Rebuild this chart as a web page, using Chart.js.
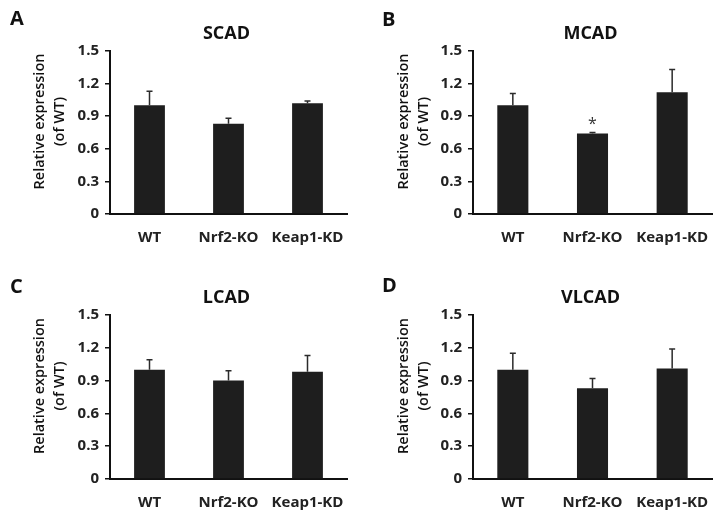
<!DOCTYPE html>
<html>
<head>
<meta charset="utf-8">
<script src="https://cdn.jsdelivr.net/npm/chart.js@4.4.1/dist/chart.umd.min.js"></script>
<style>
  html, body { margin: 0; padding: 0; background: #fff; }
  #wrap { position: relative; width: 728px; height: 524px; }
  .panel { position: absolute; width: 364px; height: 262px; }
</style>
</head>
<body>
<div id="wrap">
  <div class="panel" style="left:0;top:0"><canvas id="cA" width="364" height="262"></canvas></div>
  <div class="panel" style="left:364px;top:0"><canvas id="cB" width="364" height="262"></canvas></div>
  <div class="panel" style="left:0;top:262px"><canvas id="cC" width="364" height="262"></canvas></div>
  <div class="panel" style="left:364px;top:262px"><canvas id="cD" width="364" height="262"></canvas></div>
</div>
<script>
// data
const categories = ['WT', 'Nrf2-KO', 'Keap1-KD'];
const yTickValues = [0, 0.3, 0.6, 0.9, 1.2, 1.5];
const yTickLabels = ['0', '0.3', '0.6', '0.9', '1.2', '1.5'];

const scadMean = [1.00, 0.83, 1.02];
const scadErr = [0.13, 0.05, 0.02];
const mcadMean = [1.00, 0.74, 1.12];
const mcadErr = [0.11, 0.01, 0.21];
const mcadMarks = ['', '*', ''];
const lcadMean = [1.00, 0.90, 0.98];
const lcadErr = [0.09, 0.09, 0.15];
const vlcadMean = [1.00, 0.83, 1.01];
const vlcadErr = [0.15, 0.09, 0.18];

const FONT = "'Open Sans', 'DejaVu Sans', sans-serif";
const INK = '#1e1e1e';

// draws error bars, significance marks, panel letter, title, y axis title
const panelDecor = {
  id: 'panelDecor',
  afterDatasetsDraw(chart, args, opts) {
    const { ctx, chartArea } = chart;
    const y = chart.scales.y;
    const meta = chart.getDatasetMeta(0);
    ctx.save();
    ctx.strokeStyle = '#2b2b2b';
    ctx.lineWidth = 1.5;
    meta.data.forEach((bar, i) => {
      const top = y.getPixelForValue(opts.mean[i] + opts.err[i]);
      ctx.beginPath();
      ctx.moveTo(bar.x, bar.y);
      ctx.lineTo(bar.x, top);
      ctx.moveTo(bar.x - 3, top);
      ctx.lineTo(bar.x + 3, top);
      ctx.stroke();
      if (opts.marks && opts.marks[i]) {
        ctx.fillStyle = '#333';
        ctx.font = '16px ' + FONT;
        ctx.textAlign = 'center';
        ctx.textBaseline = 'middle';
        ctx.fillText(opts.marks[i], bar.x, top - 8);
      }
    });

    // panel letter
    ctx.fillStyle = '#111';
    ctx.font = 'bold 20px ' + FONT;
    ctx.textAlign = 'left';
    ctx.textBaseline = 'middle';
    ctx.fillText(opts.letter, opts.letterX, opts.letterY);

    // gene title
    ctx.font = 'bold 18px ' + FONT;
    ctx.textAlign = 'center';
    ctx.fillText(opts.title, (chartArea.left + chartArea.right) / 2 - 2, chartArea.top - 17);

    // y axis title, two rotated lines
    const yc = (chartArea.top + chartArea.bottom) / 2 - 11;
    ctx.font = '600 14.5px ' + FONT;
    ['Relative expression', '(of WT)'].forEach((line, k) => {
      ctx.save();
      ctx.translate(40 + k * 20, yc);
      ctx.rotate(-Math.PI / 2);
      ctx.fillText(line, 0, 0);
      ctx.restore();
    });
    ctx.restore();
  }
};

function makePanel(id, title, letter, mean, err, marks, box, letterPos) {
  new Chart(document.getElementById(id), {
    type: 'bar',
    data: {
      labels: categories,
      datasets: [{
        data: mean,
        backgroundColor: INK,
        borderWidth: 0,
        barPercentage: 0.39,
        categoryPercentage: 1.0
      }]
    },
    options: {
      responsive: false,
      animation: false,
      devicePixelRatio: 1,
      layout: { padding: { top: box.top, right: 364 - box.right, bottom: 0, left: 0 } },
      plugins: {
        legend: { display: false },
        tooltip: { enabled: false },
        panelDecor: {
          mean: mean, err: err, marks: marks, title: title, letter: letter,
          letterX: letterPos[0], letterY: letterPos[1]
        }
      },
      scales: {
        x: {
          afterFit: s => { s.height = 262 - box.bottom; },
          grid: { display: false, drawTicks: false },
          border: { display: true, color: '#111', width: 2 },
          ticks: { color: '#222', padding: 15, font: { family: FONT, size: 15, weight: 'bold' } }
        },
        y: {
          min: 0,
          max: 1.5,
          afterFit: s => { s.width = box.left; },
          afterBuildTicks: s => { s.ticks = yTickValues.map(v => ({ value: v })); },
          grid: { drawOnChartArea: false, drawTicks: true, tickLength: 5, color: '#111', lineWidth: 1.5 },
          border: { display: true, color: '#111', width: 2 },
          ticks: {
            color: '#222',
            padding: 6,
            font: { family: FONT, size: 15, weight: 'bold' },
            callback: (v, i) => yTickLabels[i]
          }
        }
      }
    },
    plugins: [panelDecor]
  });
}

makePanel('cA', 'SCAD', 'A', scadMean, scadErr, null, { left: 110, right: 347, top: 51, bottom: 214 }, [10, 19]);
makePanel('cB', 'MCAD', 'B', mcadMean, mcadErr, mcadMarks, { left: 109, right: 348, top: 51, bottom: 214 }, [18, 20]);
makePanel('cC', 'LCAD', 'C', lcadMean, lcadErr, null, { left: 110, right: 347, top: 53, bottom: 217 }, [10, 25]);
makePanel('cD', 'VLCAD', 'D', vlcadMean, vlcadErr, null, { left: 109, right: 348, top: 53, bottom: 217 }, [18, 24]);
</script>
</body>
</html>
